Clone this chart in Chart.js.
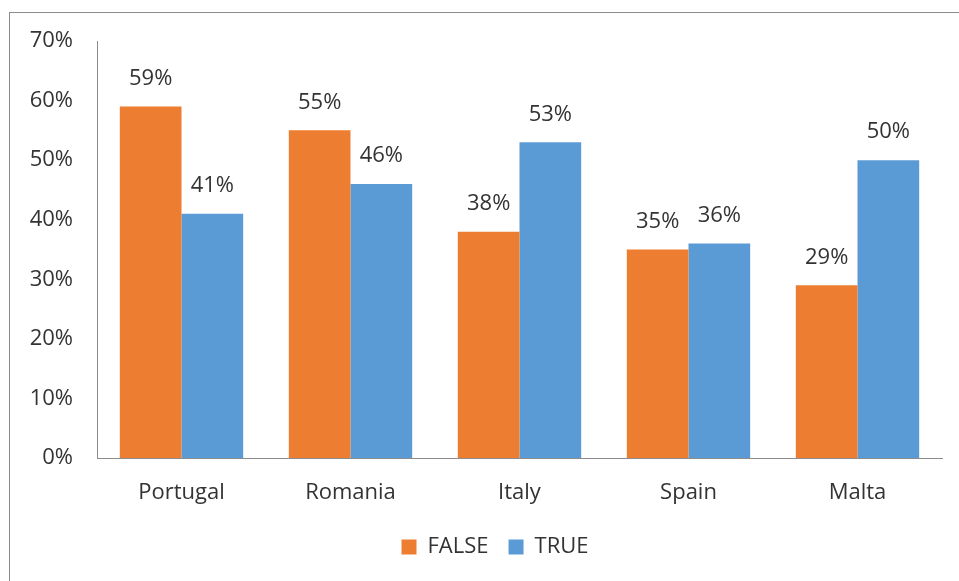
<!DOCTYPE html>
<html>
<head>
<meta charset="utf-8">
<script src="https://cdn.jsdelivr.net/npm/chart.js@4/dist/chart.umd.min.js"></script>
<style>
html,body{margin:0;padding:0;background:#fff;overflow:hidden;}
#wrap{position:absolute;left:0;top:0;width:959px;height:581px;}
#frame{position:absolute;left:9px;top:12px;width:1000px;height:700px;border-left:1px solid #8c8c8c;border-top:1px solid #8c8c8c;}
canvas{position:absolute;left:0;top:0;}
</style>
</head>
<body>
<div id="wrap">
<div id="frame"></div>
<canvas id="c" width="959" height="581"></canvas>
</div>
<script>
const categories = ["Portugal", "Romania", "Italy", "Spain", "Malta"];
const falseValues = [59, 55, 38, 35, 29];
const trueValues = [41, 46, 53, 36, 50];
const yTicks = [0, 10, 20, 30, 40, 50, 60, 70];

const FONT = "'Open Sans', 'Liberation Sans', sans-serif";
const TEXT = "#333333";

const labelPlugin = {
  id: 'valueLabels',
  afterLayout(chart) {
    // let the y tick labels extend into the left layout padding without clipping
    chart.scales.y.left = 0;
  },
  afterDatasetsDraw(chart) {
    const ctx = chart.ctx;
    ctx.save();
    ctx.font = "22px " + FONT;
    ctx.fillStyle = TEXT;
    ctx.textAlign = "center";
    ctx.textBaseline = "middle";
    chart.data.datasets.forEach((ds, i) => {
      const meta = chart.getDatasetMeta(i);
      meta.data.forEach((el, j) => {
        ctx.fillText(ds.data[j] + "%", el.x, el.y - 28);
      });
    });
    ctx.restore();
  }
};

new Chart(document.getElementById('c'), {
  type: 'bar',
  data: {
    labels: categories,
    datasets: [
      { label: 'FALSE', data: falseValues, backgroundColor: '#ED7D31', borderWidth: 0 },
      { label: 'TRUE', data: trueValues, backgroundColor: '#5B9BD5', borderWidth: 0 }
    ]
  },
  options: {
    responsive: false,
    animation: false,
    devicePixelRatio: 1,
    layout: { padding: { top: 41, right: 17, left: 48, bottom: 13 } },
    datasets: { bar: { categoryPercentage: 0.73, barPercentage: 1.0 } },
    plugins: {
      tooltip: { enabled: false },
      legend: {
        position: 'bottom',
        labels: {
          font: { size: 22, family: FONT },
          color: TEXT,
          boxWidth: 15,
          boxHeight: 15,
          padding: 20
        }
      }
    },
    scales: {
      x: {
        grid: { display: false, drawTicks: false },
        border: { display: true, color: '#8c8c8c', width: 1 },
        ticks: { font: { size: 22, family: FONT }, color: TEXT, padding: 22 },
        afterFit(s) { s.height = 58; }
      },
      y: {
        min: 0, max: 70,
        afterBuildTicks(s) { s.ticks = yTicks.map(v => ({ value: v })); },
        grid: { display: false, drawTicks: false },
        border: { display: true, color: '#8c8c8c', width: 1 },
        ticks: { font: { size: 22, family: FONT }, color: TEXT, padding: 24, callback: v => v + '%' },
        afterFit(s) { s.width = 49; }
      }
    }
  },
  plugins: [labelPlugin]
});
</script>
</body>
</html>
